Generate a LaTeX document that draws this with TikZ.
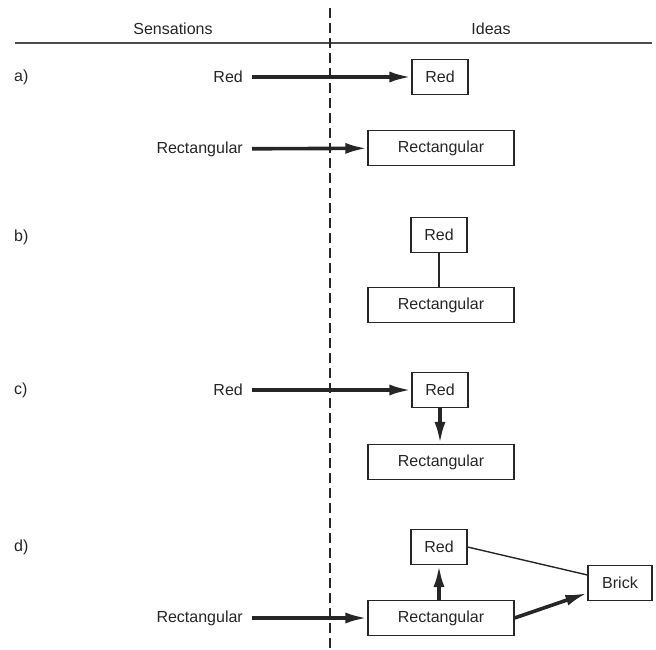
\documentclass[tikz,border=0pt]{standalone}
\usepackage{fontspec}
\setmainfont{Liberation Sans}
\usetikzlibrary{arrows.meta}

\begin{document}
\begin{tikzpicture}[x=1pt,y=-1pt,
        every node/.style={font=\fontsize{16}{18}\selectfont,text=black!85},
        idea/.style={draw=black!85,line width=1.1pt,minimum height=35pt,inner sep=0pt},
        sens/.style={anchor=east,inner xsep=9pt,inner ysep=0pt},
        part/.style={anchor=west,inner sep=0pt},
        strong/.style={-{Latex[length=22pt,width=11pt]},line width=3.6pt,draw=black!85},
        link/.style={line width=1.4pt,draw=black!85}]
        \useasboundingbox (0,0) rectangle (656,650);

        \node at (173,29) (sensations) {Sensations};
        \node at (491,29) (ideas) {Ideas};
        \coordinate (rule-l) at (15,43);
        \coordinate (rule-r) at (652,43);
        \coordinate (cut-t) at (330,8);
        \coordinate (cut-b) at (330,650);
        \draw[black!70,line width=1.4pt] (rule-l) -- (rule-r);
        \draw[black!85,line width=1.1pt,dash pattern=on 10pt off 5pt] (cut-t) -- (cut-b);

        \node[part] at (14,77) (a) {a)};
        \node[part] at (14,237) (b) {b)};
        \node[part] at (14,390) (c) {c)};
        \node[part] at (14,547) (d) {d)};

        % a)
        \node[sens] at (252,77) (a-red-s) {Red};
        \node[sens] at (252,149) (a-rect-s) {Rectangular};
        \node[idea,minimum width=56pt] at (440,77) (a-red) {Red};
        \node[idea,minimum width=146pt] at (441,148) (a-rect) {Rectangular};

        % b)
        \node[idea,minimum width=56pt] at (439,235) (b-red) {Red};
        \node[idea,minimum width=146pt] at (441,305) (b-rect) {Rectangular};

        % c)
        \node[sens] at (252,390) (c-red-s) {Red};
        \node[idea,minimum width=56pt] at (440,390) (c-red) {Red};
        \node[idea,minimum width=146pt] at (441,462) (c-rect) {Rectangular};

        % d)
        \node[sens] at (252,618) (d-rect-s) {Rectangular};
        \node[idea,minimum width=56pt] at (439,547) (d-red) {Red};
        \node[idea,minimum width=146pt] at (441,618) (d-rect) {Rectangular};
        \node[idea,minimum width=64pt] at (620,583) (d-brick) {Brick};

        \path
        (a-red-s) edge [strong] (a-red)
        (a-rect-s) edge [strong] (a-rect)

        (b-red) edge [link] (b-red |- b-rect.north)

        (c-red-s) edge [strong] (c-red)
        (c-red) edge [strong] (c-red |- c-rect.north)

        (d-rect-s) edge [strong] (d-rect)
        (d-red |- d-rect.north) edge [strong] (d-red)
        (d-red.east) edge [link] ([yshift=8pt]d-brick.west)
        (d-rect.east) edge [strong] ([yshift=-10pt]d-brick.west)
        ;
    \end{tikzpicture}
\end{document}
